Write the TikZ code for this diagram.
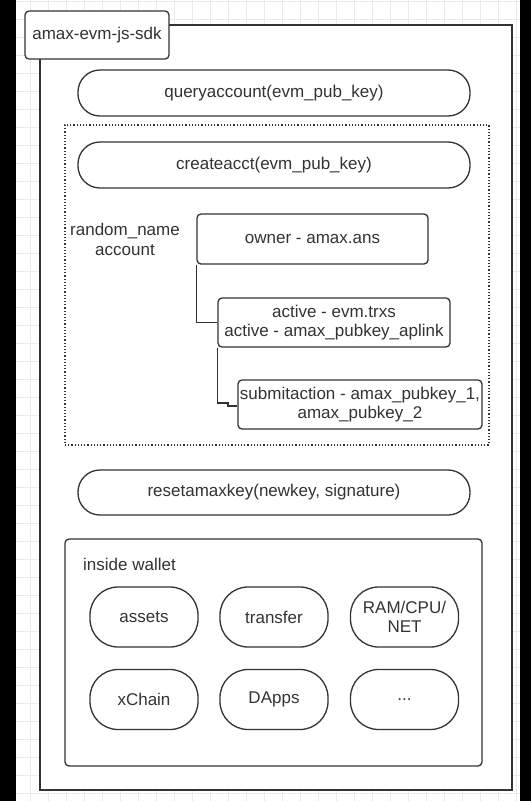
\documentclass[tikz,border=0pt]{standalone}
\usepackage{fontspec}
\setmainfont{Liberation Sans}
\usetikzlibrary{positioning}
\definecolor{ink}{HTML}{333333}
\definecolor{gridc}{HTML}{EAEAEA}
\begin{document}
\begin{tikzpicture}[x=1pt,y=-1pt,
  every node/.style={font=\fontsize{17}{19.5}\selectfont, text=ink, inner sep=0pt},
  pill/.style={draw=ink, line width=1.3pt, fill=white, rounded corners=22pt, minimum width=392pt, minimum height=46pt},
  wpill/.style={draw=ink, line width=1.3pt, fill=white, rounded corners=28pt, minimum width=108pt, minimum height=60pt, align=center},
  keybox/.style={draw=ink, line width=1.3pt, fill=white, rounded corners=4pt, minimum height=49pt, align=center},
  conn/.style={draw=ink, line width=1.3pt}
]
\useasboundingbox (0,0) rectangle (531,801);
\fill[white] (0,0) rectangle (531,801);
\foreach \gx in {12,30,...,520} \draw[gridc, line width=0.6pt] (\gx,0) -- (\gx,801);
\foreach \gy in {1,19,...,801} \draw[gridc, line width=0.6pt] (0,\gy) -- (531,\gy);
\fill[black] (0,0) rectangle (16,801);
\fill[black] (520,0) rectangle (531,801);

% outer frame
\draw[draw=ink, line width=1.4pt, fill=white] (40,25) rectangle (512,790);
\node[draw=ink, line width=1.3pt, fill=white, rounded corners=4pt, minimum width=144pt, minimum height=48pt] (title) at (97,35) {amax-evm-js-sdk};

\node[pill] (query) at (274,93) {queryaccount(evm\_pub\_key)};

\node[draw=ink, line width=1.2pt, dotted, minimum width=424pt, minimum height=320pt] (acct) at (277,285) {};
\node[pill] (create) at (274,165) {createacct(evm\_pub\_key)};
\node[align=center] (rname) at (125,239.5) {random\_name\\account};

\node[keybox, minimum width=231pt, minimum height=50pt] (owner) at (312.5,239) {owner - amax.ans};
\node[keybox, minimum width=232pt] (active) at (334,322.5) {active - evm.trxs\\active - amax\_pubkey\_aplink};
\node[keybox, minimum width=244pt] (submit) at (360,404.5) {submitaction - amax\_pubkey\_1,\\amax\_pubkey\_2};

\draw[conn] (owner.south west) -- (owner.south west |- active.west) -- (active.west);
\coordinate (j1) at (228,403);
\coordinate (j2) at (228,406);
\draw[conn] (active.south west) -- (active.south west |- j1) -- (j1) -- (j2) -- (j2 -| submit.west);

\node[pill, minimum height=45pt] (reset) at (274,492.5) {resetamaxkey(newkey, signature)};

\node[draw=ink, line width=1.3pt, fill=white, rounded corners=4pt, minimum width=417pt, minimum height=227pt] (wallet) at (273.5,652.5) {};
\node[anchor=west] (wl) at (83,564) {inside wallet};

\node[wpill] (assets) at (144,617) {assets};
\node[wpill] (transfer) at (274,617) {transfer};
\node[wpill] (ram) at (404.5,617) {RAM/CPU/\\NET};
\node[wpill] (xchain) at (144,699.5) {xChain};
\node[wpill] (dapps) at (274,699.5) {DApps};
\node[wpill] (more) at (404.5,699.5) {...};
\end{tikzpicture}
\end{document}
